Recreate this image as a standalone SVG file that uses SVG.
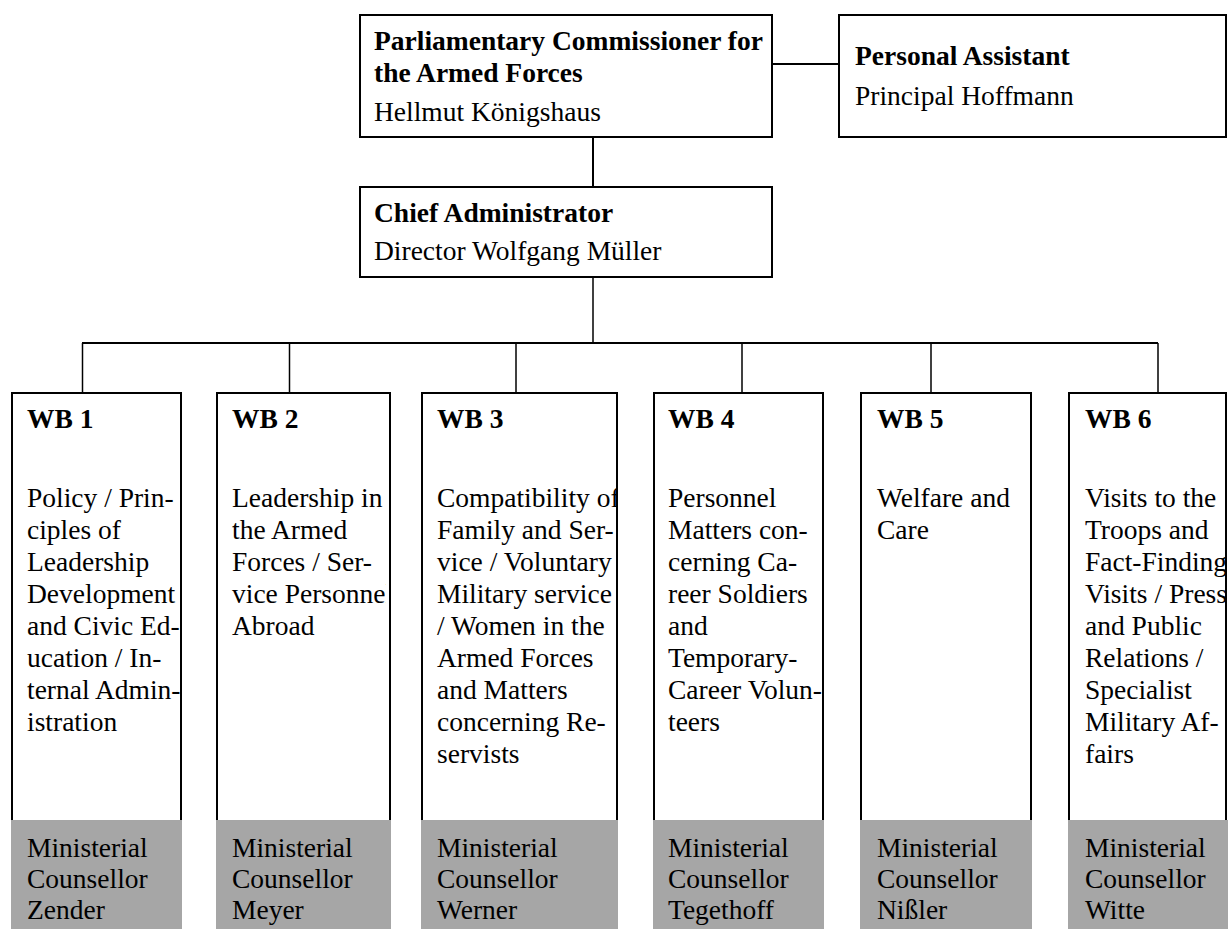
<svg xmlns="http://www.w3.org/2000/svg" width="1228" height="929" viewBox="0 0 1228 929">
<style>
.box{fill:#fff;stroke:#000;stroke-width:2}
.edge{fill:none;stroke:#000;stroke-width:2}
.gray{fill:#a6a6a6;stroke:none}
.t{font-family:"Liberation Serif","Times New Roman",serif;font-size:27.5px;fill:#000}
.b{font-weight:bold}
.c{fill:none;stroke:#000}
</style>
<defs>
<clipPath id="c1"><rect x="12" y="393" width="168" height="428"/></clipPath>
<clipPath id="c2"><rect x="217" y="393" width="169" height="428"/></clipPath>
<clipPath id="c3"><rect x="422" y="393" width="195" height="428"/></clipPath>
<clipPath id="c4"><rect x="654" y="393" width="168" height="428"/></clipPath>
<clipPath id="c5"><rect x="861" y="393" width="169" height="428"/></clipPath>
<clipPath id="c6"><rect x="1069" y="393" width="157" height="428"/></clipPath>
</defs>
<rect width="1228" height="929" fill="#fff"/>
<g id="connectors">
<line class="c" stroke-width="2" x1="772" y1="64" x2="839" y2="64"/>
<line class="c" stroke-width="2" x1="593" y1="137" x2="593" y2="187"/>
<line class="c" stroke-width="1.5" x1="593" y1="277" x2="593" y2="343"/>
<line class="c" stroke-width="2" x1="82" y1="343" x2="1158" y2="343"/>
<line class="c" stroke-width="1.5" x1="82.5" y1="343" x2="82.5" y2="393"/>
<line class="c" stroke-width="1.5" x1="289.5" y1="343" x2="289.5" y2="393"/>
<line class="c" stroke-width="1.5" x1="516" y1="343" x2="516" y2="393"/>
<line class="c" stroke-width="1.5" x1="742" y1="343" x2="742" y2="393"/>
<line class="c" stroke-width="1.5" x1="931" y1="343" x2="931" y2="393"/>
<line class="c" stroke-width="1.5" x1="1158" y1="343" x2="1158" y2="393"/>
</g>
<g id="commissioner">
<rect class="box" x="360" y="15" width="412" height="122"/>
<text class="t b" x="374" y="50">Parliamentary Commissioner for</text>
<text class="t b" x="374" y="82">the Armed Forces</text>
<text class="t" x="374" y="121">Hellmut Königshaus</text>
</g>
<g id="assistant">
<rect class="box" x="839" y="15" width="387" height="122"/>
<text class="t b" x="855" y="65">Personal Assistant</text>
<text class="t" x="855" y="105">Principal Hoffmann</text>
</g>
<g id="chief">
<rect class="box" x="360" y="187" width="412" height="90"/>
<text class="t b" x="374" y="222">Chief Administrator</text>
<text class="t" x="374" y="260">Director Wolfgang Müller</text>
</g>
<g id="wb1">
<rect class="box" x="12" y="393" width="169" height="428"/>
<g clip-path="url(#c1)">
<text class="t b" x="27" y="428">WB 1</text>
<text class="t" x="27" y="507">Policy / Prin-</text>
<text class="t" x="27" y="539">ciples of</text>
<text class="t" x="27" y="571">Leadership</text>
<text class="t" x="27" y="603">Development</text>
<text class="t" x="27" y="635">and Civic Ed-</text>
<text class="t" x="27" y="667">ucation / In-</text>
<text class="t" x="27" y="699">ternal Admin-</text>
<text class="t" x="27" y="731">istration</text>
</g>
<rect class="edge" x="12" y="393" width="169" height="428"/>
<rect class="gray" x="11" y="820" width="171" height="109"/>
<text class="t" x="27" y="857">Ministerial</text>
<text class="t" x="27" y="888">Counsellor</text>
<text class="t" x="27" y="919">Zender</text>
</g>
<g id="wb2">
<rect class="box" x="217" y="393" width="173" height="428"/>
<g clip-path="url(#c2)">
<text class="t b" x="232" y="428">WB 2</text>
<text class="t" x="232" y="507">Leadership in</text>
<text class="t" x="232" y="539">the Armed</text>
<text class="t" x="232" y="571">Forces / Ser-</text>
<text class="t" x="232" y="603">vice Personnel</text>
<text class="t" x="232" y="635">Abroad</text>
</g>
<rect class="edge" x="217" y="393" width="173" height="428"/>
<rect class="gray" x="216" y="820" width="175" height="109"/>
<text class="t" x="232" y="857">Ministerial</text>
<text class="t" x="232" y="888">Counsellor</text>
<text class="t" x="232" y="919">Meyer</text>
</g>
<g id="wb3">
<rect class="box" x="422" y="393" width="195" height="428"/>
<g clip-path="url(#c3)">
<text class="t b" x="437" y="428">WB 3</text>
<text class="t" x="437" y="507">Compatibility of</text>
<text class="t" x="437" y="539">Family and Ser-</text>
<text class="t" x="437" y="571">vice / Voluntary</text>
<text class="t" x="437" y="603">Military service</text>
<text class="t" x="437" y="635">/ Women in the</text>
<text class="t" x="437" y="667">Armed Forces</text>
<text class="t" x="437" y="699">and Matters</text>
<text class="t" x="437" y="731">concerning Re-</text>
<text class="t" x="437" y="763">servists</text>
</g>
<rect class="edge" x="422" y="393" width="195" height="428"/>
<rect class="gray" x="421" y="820" width="197" height="109"/>
<text class="t" x="437" y="857">Ministerial</text>
<text class="t" x="437" y="888">Counsellor</text>
<text class="t" x="437" y="919">Werner</text>
</g>
<g id="wb4">
<rect class="box" x="654" y="393" width="169" height="428"/>
<g clip-path="url(#c4)">
<text class="t b" x="668" y="428">WB 4</text>
<text class="t" x="668" y="507">Personnel</text>
<text class="t" x="668" y="539">Matters con-</text>
<text class="t" x="668" y="571">cerning Ca-</text>
<text class="t" x="668" y="603">reer Soldiers</text>
<text class="t" x="668" y="635">and</text>
<text class="t" x="668" y="667">Temporary-</text>
<text class="t" x="668" y="699">Career Volun-</text>
<text class="t" x="668" y="731">teers</text>
</g>
<rect class="edge" x="654" y="393" width="169" height="428"/>
<rect class="gray" x="653" y="820" width="171" height="109"/>
<text class="t" x="668" y="857">Ministerial</text>
<text class="t" x="668" y="888">Counsellor</text>
<text class="t" x="668" y="919">Tegethoff</text>
</g>
<g id="wb5">
<rect class="box" x="861" y="393" width="170" height="428"/>
<g clip-path="url(#c5)">
<text class="t b" x="877" y="428">WB 5</text>
<text class="t" x="877" y="507">Welfare and</text>
<text class="t" x="877" y="539">Care</text>
</g>
<rect class="gray" x="860" y="820" width="172" height="109"/>
<text class="t" x="877" y="857">Ministerial</text>
<text class="t" x="877" y="888">Counsellor</text>
<text class="t" x="877" y="919">Nißler</text>
</g>
<g id="wb6">
<rect class="box" x="1069" y="393" width="157" height="428"/>
<g clip-path="url(#c6)">
<text class="t b" x="1085" y="428">WB 6</text>
<text class="t" x="1085" y="507">Visits to the</text>
<text class="t" x="1085" y="539">Troops and</text>
<text class="t" x="1085" y="571">Fact-Finding</text>
<text class="t" x="1085" y="603">Visits / Press</text>
<text class="t" x="1085" y="635">and Public</text>
<text class="t" x="1085" y="667">Relations /</text>
<text class="t" x="1085" y="699">Specialist</text>
<text class="t" x="1085" y="731">Military Af-</text>
<text class="t" x="1085" y="763">fairs</text>
</g>
<rect class="edge" x="1069" y="393" width="157" height="428"/>
<rect class="gray" x="1068" y="820" width="160" height="109"/>
<text class="t" x="1085" y="857">Ministerial</text>
<text class="t" x="1085" y="888">Counsellor</text>
<text class="t" x="1085" y="919">Witte</text>
</g>
</svg>
